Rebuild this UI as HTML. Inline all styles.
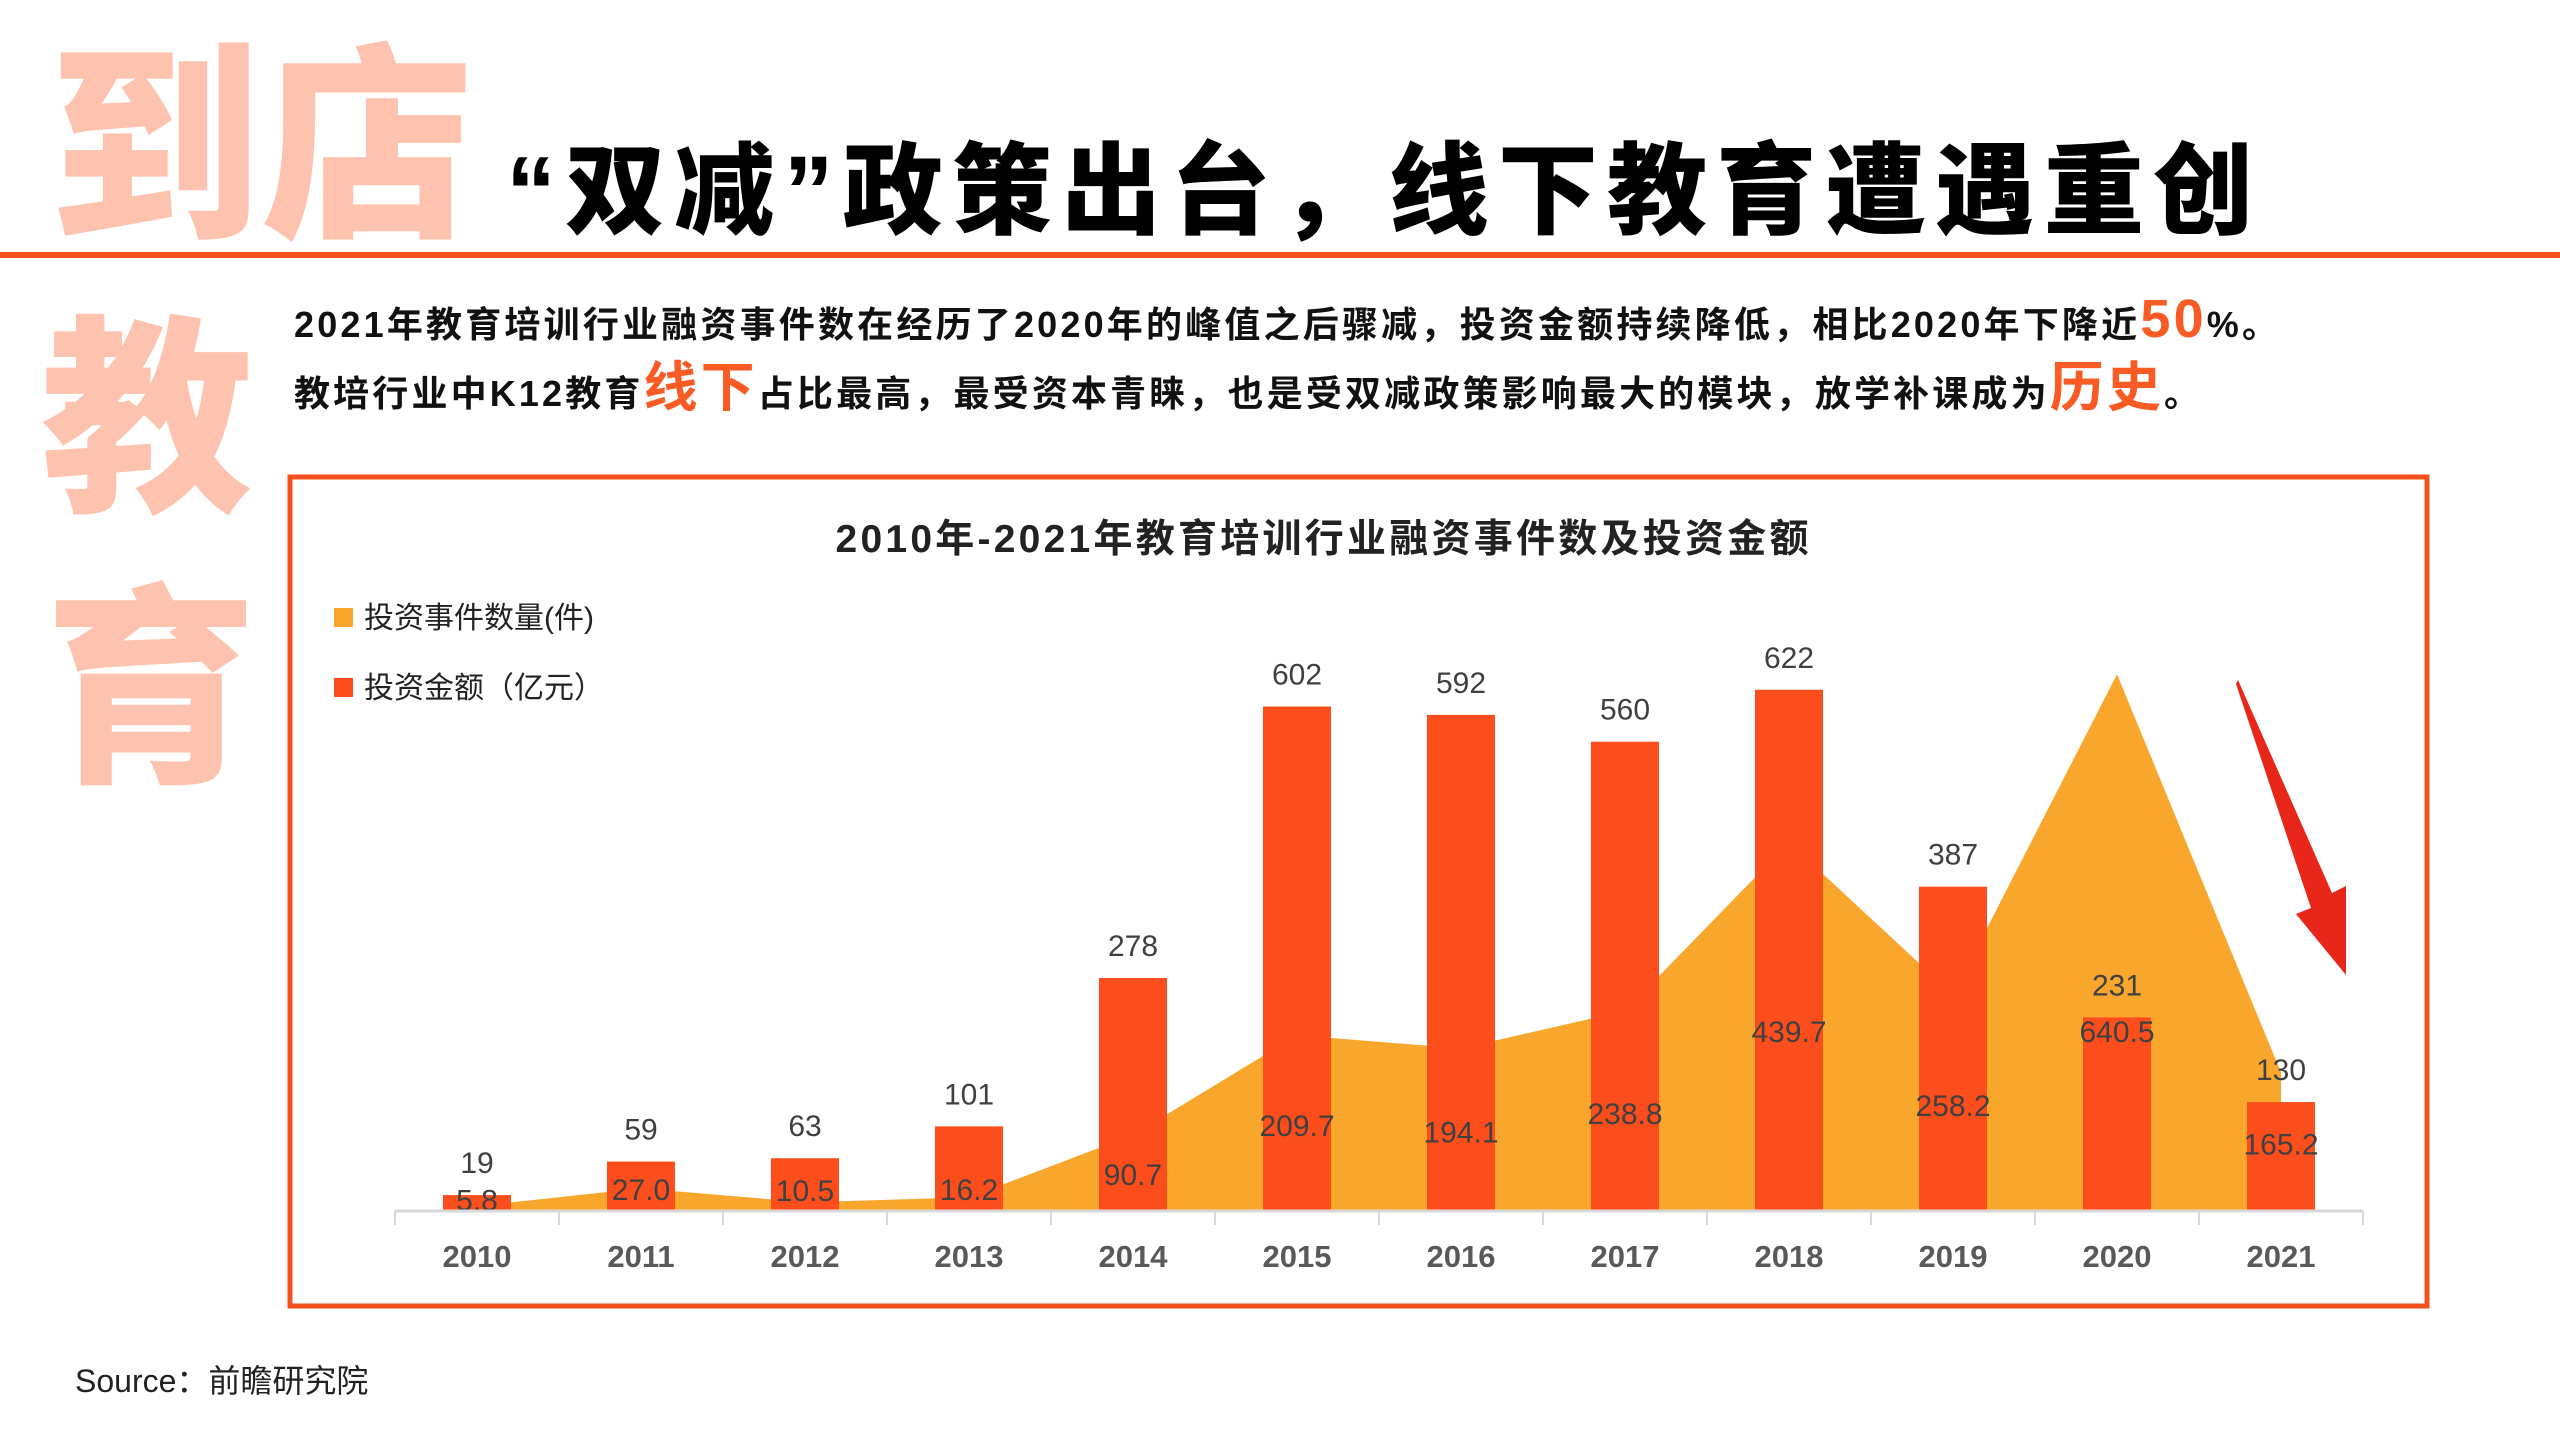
<!DOCTYPE html>
<html><head><meta charset="utf-8"><style>
html,body{margin:0;padding:0;background:#fff;}
svg{display:block;font-family:"Liberation Sans","Noto Sans CJK SC",sans-serif;}
</style></head><body>
<svg id="s" width="2560" height="1440" viewBox="0 0 2560 1440" xmlns="http://www.w3.org/2000/svg">
<g fill="#fdc3ae" font-weight="900">
<text x="49" y="222" font-size="212" textLength="424">到店</text>
<text x="41" y="495" font-size="212">教</text>
<text x="45" y="765" font-size="212">育</text>
</g>
<text x="506" y="226" font-size="100" font-weight="900" fill="#000" textLength="1747">“双减”政策出台，线下教育遭遇重创</text>
<rect x="0" y="252" width="2560" height="6" fill="#f4511e"/>
<text x="294" y="337" font-size="36" font-weight="700" fill="#111" textLength="1984">2021年教育培训行业融资事件数在经历了2020年的峰值之后骤减，投资金额持续降低，相比2020年下降近<tspan fill="#f85b23" font-size="54">50</tspan>%。</text>
<text x="294" y="406" font-size="36" font-weight="700" fill="#111" textLength="1906">教培行业中K12教育<tspan fill="#f85b23" font-size="54">线下</tspan>占比最高，最受资本青睐，也是受双减政策影响最大的模块，放学补课成为<tspan fill="#f85b23" font-size="54">历史</tspan>。</text>
<rect x="290" y="477" width="2137" height="829" fill="#fff" stroke="#f4511e" stroke-width="5"/>
<text x="1322" y="552" font-size="39" font-weight="700" fill="#222" text-anchor="middle" textLength="973">2010年-2021年教育培训行业融资事件数及投资金额</text>
<rect x="334" y="608" width="19" height="19" fill="#f9a62c"/>
<text x="364" y="628" font-size="30" fill="#222">投资事件数量(件)</text>
<rect x="334" y="678" width="19" height="19" fill="#fc4e1c"/>
<text x="364" y="698" font-size="30" fill="#222">投资金额（亿元）</text>
<g id="plot"></g>
<polygon points="2238,680 2332,893 2346,886 2346,975 2296,914 2311,908 2236,684" fill="#e8261a"/>
<text x="75" y="1392" font-size="32" fill="#222">Source：前瞻研究院</text>
</svg>
<script>
const years = ["2010","2011","2012","2013","2014","2015","2016","2017","2018","2019","2020","2021"];
const eventCounts = [19,59,63,101,278,602,592,560,622,387,231,130];
const amounts = [5.8,27.0,10.5,16.2,90.7,209.7,194.1,238.8,439.7,258.2,640.5,165.2];

const NS="http://www.w3.org/2000/svg";
const g=document.getElementById('plot');
const baseY=1211, x0=395, step=164, k=0.838;
function xC(i){return x0+step/2+step*i;}
function yV(v){return baseY-v*k;}
function mk(tag,attrs){const e=document.createElementNS(NS,tag);for(const a in attrs)e.setAttribute(a,attrs[a]);g.appendChild(e);return e;}

let pts=xC(0)+","+baseY+" ";
amounts.forEach((v,i)=>{pts+=xC(i)+","+yV(v)+" ";});
pts+=xC(amounts.length-1)+","+baseY;
const area=mk('polygon',{points:pts,fill:"#f9a62c"});



eventCounts.forEach((v,i)=>{
  const r=mk('rect',{x:xC(i)-34,y:yV(v),width:68,height:v*k,fill:"#fc4e1c"});
  
  
  const t=mk('text',{x:xC(i),y:yV(v)-22,"font-size":30,fill:"#404040","text-anchor":"middle"});
  t.textContent=v;
  
  
});
amounts.forEach((v,i)=>{
  const off=Math.min(Math.max(v*0.41, Math.min(22, v*2)),180);
  const t=mk('text',{x:xC(i),y:baseY-off+11,"font-size":30,fill:"#404040","text-anchor":"middle"});
  t.textContent=v.toFixed(1);
  
  
});
const ax=mk('line',{x1:x0,y1:baseY,x2:x0+step*12,y2:baseY,stroke:"#d9d9d9","stroke-width":3});


for(let i=0;i<=12;i++){
  const tk=mk('line',{x1:x0+step*i,y1:baseY,x2:x0+step*i,y2:baseY+14,stroke:"#d9d9d9","stroke-width":2});
  
  
}
years.forEach((y,i)=>{
  const t=mk('text',{x:xC(i),y:1267,"font-size":31,"font-weight":700,fill:"#595959","text-anchor":"middle"});
  t.textContent=y;
  
  
});
</script>
</body></html>
